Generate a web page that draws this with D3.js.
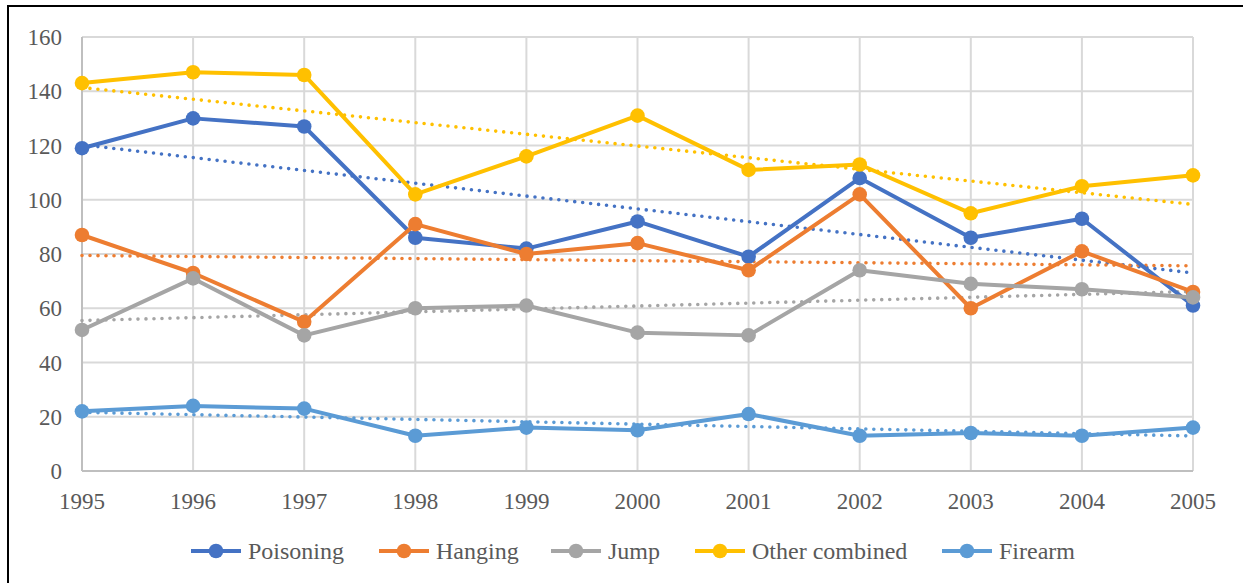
<!DOCTYPE html>
<html>
<head>
<meta charset="utf-8">
<script src="https://cdn.jsdelivr.net/npm/d3@7"></script>
</head>
<body style="margin:0;background:#fff">
<svg id="chart" width="1243" height="583" style="display:block"></svg>
<script>
// Years on the x axis
const years = [1995, 1996, 1997, 1998, 1999, 2000, 2001, 2002, 2003, 2004, 2005];

// Counts per method and year
const poisoning     = [119, 130, 127, 86, 82, 92, 79, 108, 86, 93, 61];
const hanging       = [87, 73, 55, 91, 80, 84, 74, 102, 60, 81, 66];
const jump          = [52, 71, 50, 60, 61, 51, 50, 74, 69, 67, 64];
const otherCombined = [143, 147, 146, 102, 116, 131, 111, 113, 95, 105, 109];
const firearm       = [22, 24, 23, 13, 16, 15, 21, 13, 14, 13, 16];

const seriesNames  = ["Poisoning", "Hanging", "Jump", "Other combined", "Firearm"];
const seriesValues = [poisoning, hanging, jump, otherCombined, firearm];
const seriesColors = ["#4472C4", "#ED7D31", "#A5A5A5", "#FFC000", "#5B9BD5"];

const yTicks = [0, 20, 40, 60, 80, 100, 120, 140, 160];

const svg = d3.select("#chart");
const font = "Liberation Serif";

// Outer frame
svg.append("rect")
  .attr("x", 8).attr("y", 6).attr("width", 1245).attr("height", 590)
  .attr("fill", "none").attr("stroke", "#000").attr("stroke-width", 2);

const plot = { left: 82, right: 1193, top: 37, bottom: 471 };

const x = d3.scaleLinear().domain([1995, 2005]).range([plot.left, plot.right]);
const y = d3.scaleLinear().domain([0, 160]).range([plot.bottom, plot.top]);

// Horizontal gridlines
svg.append("g")
  .selectAll("line").data(yTicks).join("line")
  .attr("x1", plot.left).attr("x2", plot.right)
  .attr("y1", d => y(d)).attr("y2", d => y(d))
  .attr("stroke", "#d9d9d9").attr("stroke-width", 2);

// Vertical gridlines
svg.append("g")
  .selectAll("line").data(years).join("line")
  .attr("x1", d => x(d)).attr("x2", d => x(d))
  .attr("y1", plot.top).attr("y2", plot.bottom)
  .attr("stroke", "#d9d9d9").attr("stroke-width", 2);

// Axis lines
svg.append("line")
  .attr("x1", plot.left).attr("x2", plot.right)
  .attr("y1", plot.bottom).attr("y2", plot.bottom)
  .attr("stroke", "#bfbfbf").attr("stroke-width", 2);
svg.append("line")
  .attr("x1", plot.left).attr("x2", plot.left)
  .attr("y1", plot.top).attr("y2", plot.bottom)
  .attr("stroke", "#bfbfbf").attr("stroke-width", 2);

// Y axis labels
svg.append("g")
  .selectAll("text").data(yTicks).join("text")
  .attr("x", plot.left - 20)
  .attr("y", d => y(d))
  .attr("dy", "0.35em")
  .attr("text-anchor", "end")
  .attr("font-family", font).attr("font-size", 23).attr("fill", "#595959")
  .text(d => d);

// X axis labels
svg.append("g")
  .selectAll("text").data(years).join("text")
  .attr("x", d => x(d))
  .attr("y", plot.bottom + 38)
  .attr("text-anchor", "middle")
  .attr("font-family", font).attr("font-size", 23).attr("fill", "#595959")
  .text(d => d);

// Least-squares linear trend for a series
function trend(vals) {
  const n = vals.length;
  const mx = d3.mean(years), my = d3.mean(vals);
  let sxy = 0, sxx = 0;
  years.forEach((yr, i) => { sxy += (yr - mx) * (vals[i] - my); sxx += (yr - mx) ** 2; });
  const b = sxy / sxx, a = my - b * mx;
  return [years[0], years[n - 1]].map(yr => [yr, a + b * yr]);
}

// Dotted trendlines
const trendLayer = svg.append("g");
seriesValues.forEach((vals, i) => {
  trendLayer.append("path")
    .datum(trend(vals))
    .attr("d", d3.line().x(d => x(d[0])).y(d => y(d[1])))
    .attr("fill", "none")
    .attr("stroke", seriesColors[i])
    .attr("stroke-width", 3.6)
    .attr("stroke-linecap", "round")
    .attr("stroke-dasharray", "0 8");
});

// Series lines and markers
const line = d3.line().x((d, i) => x(years[i])).y(d => y(d));
seriesValues.forEach((vals, i) => {
  const g = svg.append("g");
  g.append("path")
    .datum(vals)
    .attr("d", line)
    .attr("fill", "none")
    .attr("stroke", seriesColors[i])
    .attr("stroke-width", 4)
    .attr("stroke-linejoin", "round");
  g.selectAll("circle").data(vals).join("circle")
    .attr("cx", (d, j) => x(years[j]))
    .attr("cy", d => y(d))
    .attr("r", 7.3)
    .attr("fill", seriesColors[i]);
});

// Legend (left edge of each entry's swatch)
const legendX = [191, 379, 551, 695, 942];
const legendY = 551;
seriesNames.forEach((name, i) => {
  const item = svg.append("g").attr("transform", `translate(${legendX[i]},${legendY})`);
  item.append("line")
    .attr("x1", 0).attr("x2", 50).attr("y1", 0).attr("y2", 0)
    .attr("stroke", seriesColors[i]).attr("stroke-width", 4);
  item.append("circle").attr("cx", 25).attr("cy", 0).attr("r", 7.3).attr("fill", seriesColors[i]);
  item.append("text")
    .attr("x", 57).attr("y", 0).attr("dy", "0.35em")
    .attr("font-family", font).attr("font-size", 24).attr("fill", "#595959")
    .text(name);
});
</script>
</body>
</html>
